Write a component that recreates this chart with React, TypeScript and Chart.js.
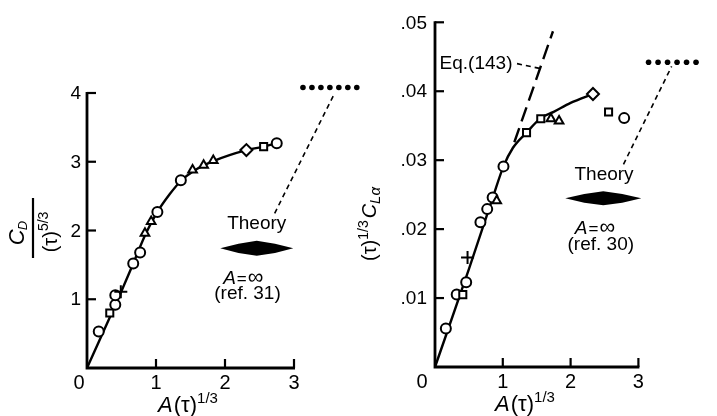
import React, { useEffect, useRef } from "react";
import { Chart, registerables } from "chart.js";
Chart.register(...registerables);

// ---------- Left panel data ----------
const leftMarkX = [0.17, 0.33, 0.41, 0.41, 0.49, 0.67, 0.77, 0.84, 0.93, 1.02, 1.36, 1.53, 1.69, 1.83, 2.31, 2.56, 2.75];
const leftMarkY = [0.53, 0.8, 0.92, 1.06, 1.11, 1.52, 1.68, 1.96, 2.13, 2.27, 2.73, 2.88, 2.95, 3.02, 3.17, 3.22, 3.27];
const leftMarkStyle = ["circle", "rect", "circle", "circle", "cross", "circle", "circle", "triangle", "triangle", "circle", "circle", "triangle", "triangle", "triangle", "rectRot", "rect", "circle"];
const leftCurveX = [0, 0.5, 0.67, 0.85, 1.02, 1.2, 1.36, 1.55, 1.83, 2.31, 2.56, 2.75];
const leftCurveY = [0, 1.12, 1.52, 1.95, 2.27, 2.53, 2.72, 2.87, 3.01, 3.17, 3.22, 3.27];
const leftTheoryX = [3.13, 3.26, 3.39, 3.52, 3.65, 3.78, 3.91];
const leftTheoryY = [4.08, 4.08, 4.08, 4.08, 4.08, 4.08, 4.08];
const leftLeaderX = [2.72, 3.59];
const leftLeaderY = [2.25, 4.0];
const leftXTicks = [0, 1, 2, 3];
const leftXTickLabels = ["0", "1", "2", "3"];
const leftYTicks = [1, 2, 3, 4];
const leftYTickLabels = ["1", "2", "3", "4"];

// ---------- Right panel data ----------
const rightMarkX = [0.16, 0.32, 0.41, 0.46, 0.48, 0.67, 0.77, 0.85, 0.91, 1.01, 1.35, 1.56, 1.71, 1.83, 2.33, 2.56, 2.79];
const rightMarkY = [0.0056, 0.0105, 0.0105, 0.0123, 0.0159, 0.021, 0.0229, 0.0246, 0.0241, 0.0291, 0.034, 0.036, 0.036, 0.0357, 0.0396, 0.037, 0.0361];
const rightMarkStyle = ["circle", "circle", "rect", "circle", "cross", "circle", "circle", "circle", "triangle", "circle", "rect", "rect", "triangle", "triangle", "rectRot", "rect", "circle"];
const rightCurveX = [0, 0.5, 0.85, 1.01, 1.15, 1.35, 1.56, 1.75, 2.0, 2.33];
const rightCurveY = [0, 0.0142, 0.0245, 0.0291, 0.0318, 0.034, 0.0361, 0.037, 0.0383, 0.0396];
const rightEqX = [1.17, 1.74];
const rightEqY = [0.0326, 0.0487];
const rightEqLeaderX = [1.21, 1.55];
const rightEqLeaderY = [0.044, 0.0433];
const rightTheoryX = [3.15, 3.29, 3.43, 3.57, 3.71, 3.85];
const rightTheoryY = [0.0442, 0.0442, 0.0442, 0.0442, 0.0442, 0.0442];
const rightLeaderX = [2.78, 3.49];
const rightLeaderY = [0.0294, 0.0436];
const rightXTicks = [0, 1, 2, 3];
const rightXTickLabels = ["0", "1", "2", "3"];
const rightYTicks = [0.01, 0.02, 0.03, 0.04, 0.05];
const rightYTickLabels = [".01", ".02", ".03", ".04", ".05"];

const F = '"Liberation Sans", Arial, sans-serif';

type Run = { t: string; font: string; dy?: number; dx?: number };

function drawRuns(ctx: CanvasRenderingContext2D, runs: Run[], cx: number, baseY: number) {
  const widths = runs.map((r) => {
    ctx.font = r.font;
    return ctx.measureText(r.t).width + (r.dx || 0);
  });
  const total = widths.reduce((a, b) => a + b, 0);
  let x = cx - total / 2;
  ctx.textAlign = "left";
  ctx.textBaseline = "alphabetic";
  runs.forEach((r, i) => {
    ctx.font = r.font;
    ctx.fillText(r.t, x + (r.dx || 0), baseY + (r.dy || 0));
    x += widths[i];
  });
}

function pts(xs: number[], ys: number[]) {
  return xs.map((x, i) => ({ x, y: ys[i] }));
}

type DecoCfg = {
  xTicks: number[];
  xLabels: string[];
  yTicks: number[];
  yLabels: string[];
  xAxisMax: number;
  yAxisMax: number;
  yLabelGap: number;
  zeroDx: number;
  xLabelFont: string;
  yLabelFont: string;
  theory: { tx: number; ty: number; dx: number; dy: number; hw: number; hh: number; ax: number; ay: number; rx: number; ry: number; ref: string };
  drawYTitle: (ctx: CanvasRenderingContext2D) => void;
  xTitleX: number;
  xTitleY: number;
  extra?: (ctx: CanvasRenderingContext2D, X: (v: number) => number, Y: (v: number) => number) => void;
};

function decoPlugin(cfg: DecoCfg) {
  return {
    id: "deco",
    beforeDatasetsDraw(chart: any) {
      const ctx: CanvasRenderingContext2D = chart.ctx;
      const xs = chart.scales.x;
      const ys = chart.scales.y;
      const X = (v: number) => xs.getPixelForValue(v);
      const Y = (v: number) => ys.getPixelForValue(v);
      ctx.save();
      ctx.strokeStyle = "#000";
      ctx.fillStyle = "#000";
      ctx.lineWidth = 2.8;
      ctx.lineCap = "butt";
      const x0 = X(0);
      const y0 = Y(0);
      ctx.beginPath();
      ctx.moveTo(x0, Y(cfg.yAxisMax) - 1);
      ctx.lineTo(x0, y0);
      ctx.lineTo(X(cfg.xAxisMax) + 1, y0);
      ctx.stroke();
      ctx.lineWidth = 2.2;
      cfg.yTicks.forEach((v) => {
        ctx.beginPath();
        ctx.moveTo(x0, Y(v));
        ctx.lineTo(x0 + 9, Y(v));
        ctx.stroke();
      });
      cfg.xTicks.forEach((v) => {
        if (v === 0) return;
        ctx.beginPath();
        ctx.moveTo(X(v), y0);
        ctx.lineTo(X(v), y0 - 9);
        ctx.stroke();
      });
      // tick labels
      ctx.font = cfg.yLabelFont;
      ctx.textAlign = "right";
      ctx.textBaseline = "middle";
      cfg.yTicks.forEach((v, i) => ctx.fillText(cfg.yLabels[i], x0 - cfg.yLabelGap, Y(v) + 1));
      ctx.font = cfg.xLabelFont;
      ctx.textAlign = "center";
      cfg.xTicks.forEach((v, i) => ctx.fillText(cfg.xLabels[i], v === 0 ? x0 - cfg.zeroDx : X(v), y0 + 15));
      // x title
      ctx.fillStyle = "#000";
      drawRuns(
        ctx,
        [
          { t: "A", font: `italic 22px ${F}` },
          { t: "(τ)", font: `22px ${F}`, dx: 1 },
          { t: "1/3", font: `15px ${F}`, dy: -9 },
        ],
        cfg.xTitleX,
        cfg.xTitleY
      );
      cfg.drawYTitle(ctx);
      // theory annotation
      const th = cfg.theory;
      ctx.font = `19px ${F}`;
      ctx.textAlign = "center";
      ctx.textBaseline = "middle";
      ctx.fillText("Theory", X(th.tx), Y(th.ty));
      const cx = X(th.dx);
      const cy = Y(th.dy);
      ctx.beginPath();
      ctx.moveTo(cx - th.hw, cy);
      ctx.lineTo(cx - th.hw * 0.5, cy - th.hh * 0.62);
      ctx.lineTo(cx, cy - th.hh);
      ctx.lineTo(cx + th.hw * 0.5, cy - th.hh * 0.62);
      ctx.lineTo(cx + th.hw, cy);
      ctx.lineTo(cx + th.hw * 0.5, cy + th.hh * 0.62);
      ctx.lineTo(cx, cy + th.hh);
      ctx.lineTo(cx - th.hw * 0.5, cy + th.hh * 0.62);
      ctx.closePath();
      ctx.fill();
      drawRuns(
        ctx,
        [
          { t: "A", font: `italic 19px ${F}` },
          { t: "=", font: `17px ${F}`, dx: 1 },
          { t: "∞", font: `22px ${F}`, dx: 1 },
        ],
        X(th.ax),
        Y(th.ay) + 5
      );
      ctx.font = `19px ${F}`;
      ctx.textAlign = "center";
      ctx.textBaseline = "middle";
      ctx.fillText(th.ref, X(th.rx), Y(th.ry) + 1);
      if (cfg.extra) cfg.extra(ctx, X, Y);
      ctx.restore();
    },
  };
}

function markerDataset(xs: number[], ys: number[], styles: string[]) {
  return {
    data: pts(xs, ys),
    pointStyle: styles,
    pointRadius: styles.map((s) => (s === "cross" ? 6.5 : s === "rectRot" ? 6 : 5)),
    pointBackgroundColor: "#fff",
    pointBorderColor: "#000",
    pointBorderWidth: 2,
    showLine: false,
    clip: false as any,
  };
}

function lineDataset(xs: number[], ys: number[], width: number, dash: number[], smooth: boolean) {
  return {
    data: pts(xs, ys),
    showLine: true,
    borderColor: "#000",
    borderWidth: width,
    borderDash: dash,
    pointRadius: 0,
    fill: false,
    cubicInterpolationMode: smooth ? ("monotone" as const) : ("default" as const),
    clip: false as any,
  };
}

function dotsDataset(xs: number[], ys: number[]) {
  return {
    data: pts(xs, ys),
    showLine: false,
    pointStyle: "circle",
    pointRadius: 2.8,
    pointBackgroundColor: "#000",
    pointBorderColor: "#000",
    pointBorderWidth: 0,
    clip: false as any,
  };
}

function baseOptions(padding: any, xMax: number, yMax: number) {
  return {
    animation: false as const,
    responsive: false,
    devicePixelRatio: 1,
    events: [] as any[],
    layout: { padding },
    scales: {
      x: { type: "linear" as const, min: 0, max: xMax, display: false },
      y: { type: "linear" as const, min: 0, max: yMax, display: false },
    },
    plugins: { legend: { display: false }, tooltip: { enabled: false } },
  };
}

function buildLeft(): any {
  return {
    type: "scatter",
    data: {
      datasets: [
        markerDataset(leftMarkX, leftMarkY, leftMarkStyle),
        dotsDataset(leftTheoryX, leftTheoryY),
        lineDataset(leftCurveX, leftCurveY, 2.4, [], true),
        lineDataset(leftLeaderX, leftLeaderY, 1.6, [5, 4], false),
      ],
    },
    options: baseOptions({ left: 87, right: 354, top: 79.25, bottom: 48 }, 4, 4.2),
    plugins: [
      decoPlugin({
        xTicks: leftXTicks,
        xLabels: leftXTickLabels,
        yTicks: leftYTicks,
        yLabels: leftYTickLabels,
        xAxisMax: 3,
        yAxisMax: 4,
        yLabelGap: 6,
        zeroDx: 8,
        xLabelFont: `20px ${F}`,
        yLabelFont: `19px ${F}`,
        theory: { tx: 2.46, ty: 2.095, dx: 2.46, dy: 1.741, hw: 36.5, hh: 7.5, ax: 2.265, ay: 1.295, rx: 2.326, ry: 1.091, ref: "(ref. 31)" },
        xTitleX: 188,
        xTitleY: 412,
        drawYTitle: (ctx) => {
          ctx.save();
          ctx.translate(33, 229);
          ctx.rotate(-Math.PI / 2);
          drawRuns(
            ctx,
            [
              { t: "C", font: `italic 22px ${F}` },
              { t: "D", font: `italic 13px ${F}`, dy: 3, dx: -1 },
            ],
            -4,
            -9
          );
          ctx.lineWidth = 2.2;
          ctx.beginPath();
          ctx.moveTo(-29, 0);
          ctx.lineTo(31, 0);
          ctx.stroke();
          drawRuns(
            ctx,
            [
              { t: "(τ)", font: `20px ${F}` },
              { t: "5/3", font: `14px ${F}`, dy: -9 },
            ],
            -3,
            24
          );
          ctx.restore();
        },
      }),
    ],
  };
}

function buildRight(): any {
  return {
    type: "scatter",
    data: {
      datasets: [
        markerDataset(rightMarkX, rightMarkY, rightMarkStyle),
        dotsDataset(rightTheoryX, rightTheoryY),
        lineDataset(rightCurveX, rightCurveY, 2.4, [], true),
        lineDataset(rightEqX, rightEqY, 2.4, [15, 7], false),
        lineDataset(rightEqLeaderX, rightEqLeaderY, 1.6, [5, 4], false),
        lineDataset(rightLeaderX, rightLeaderY, 1.6, [5, 4], false),
      ],
    },
    options: baseOptions({ left: 435, right: 10.8, top: 6.64, bottom: 49 }, 4, 0.052),
    plugins: [
      decoPlugin({
        xTicks: rightXTicks,
        xLabels: rightXTickLabels,
        yTicks: rightYTicks,
        yLabels: rightYTickLabels,
        xAxisMax: 3,
        yAxisMax: 0.05,
        yLabelGap: 8,
        zeroDx: 13,
        xLabelFont: `20px ${F}`,
        yLabelFont: `19px ${F}`,
        theory: { tx: 2.493, ty: 0.02785, dx: 2.482, dy: 0.02446, hw: 38, hh: 7, ax: 2.36, ay: 0.02006, rx: 2.445, ry: 0.01789, ref: "(ref. 30)" },
        xTitleX: 525,
        xTitleY: 411,
        drawYTitle: (ctx) => {
          ctx.save();
          ctx.translate(370, 224);
          ctx.rotate(-Math.PI / 2);
          drawRuns(
            ctx,
            [
              { t: "(τ)", font: `20px ${F}` },
              { t: "1/3", font: `14px ${F}`, dy: -8 },
              { t: "C", font: `italic 20px ${F}`, dx: 2 },
              { t: "Lα", font: `italic 15px ${F}`, dy: 4 },
            ],
            0,
            6
          );
          ctx.restore();
        },
        extra: (ctx, X, Y) => {
          ctx.font = `19px ${F}`;
          ctx.textAlign = "center";
          ctx.textBaseline = "middle";
          ctx.fillText("Eq.(143)", X(0.605), Y(0.04394));
        },
      }),
    ],
  };
}

export default function App() {
  const leftRef = useRef<HTMLCanvasElement>(null);
  const rightRef = useRef<HTMLCanvasElement>(null);
  useEffect(() => {
    const c1 = new Chart(leftRef.current as HTMLCanvasElement, buildLeft());
    const c2 = new Chart(rightRef.current as HTMLCanvasElement, buildRight());
    return () => {
      c1.destroy();
      c2.destroy();
    };
  }, []);
  return (
    <div style={{ position: "absolute", left: 0, top: 0, width: 717, height: 416, background: "#fff" }}>
      <canvas ref={leftRef} width={717} height={416} style={{ position: "absolute", left: 0, top: 0 }} />
      <canvas ref={rightRef} width={717} height={416} style={{ position: "absolute", left: 0, top: 0 }} />
    </div>
  );
}
